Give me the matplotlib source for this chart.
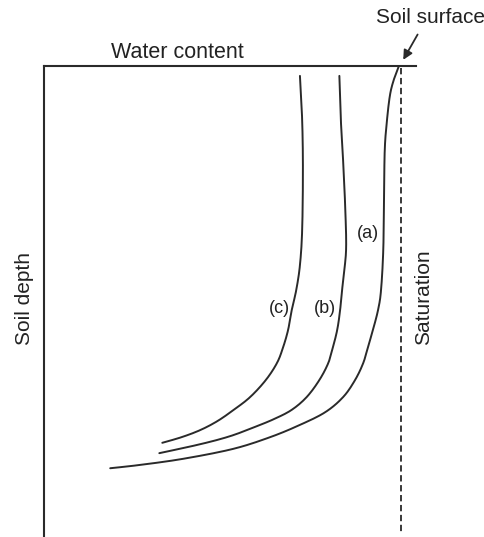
import matplotlib
matplotlib.use("Agg")
import matplotlib.pyplot as plt
import numpy as np

plt.rcParams['font.family'] = ['Liberation Sans', 'DejaVu Sans']

# water content (volume fraction) and depth (cm)
theta_a = [0.477, 0.470, 0.465, 0.461, 0.458, 0.457, 0.456, 0.453, 0.449, 0.442, 0.435,
           0.429, 0.418, 0.402, 0.378, 0.344, 0.304, 0.254, 0.187, 0.129, 0.089]
depth_a = [0.0, 3.0, 6.2, 11.5, 17.8, 28.5, 39.1, 47.6, 51.8, 56.1, 59.9,
           63.1, 66.7, 70.3, 73.5, 76.2, 78.8, 81.3, 83.4, 84.7, 85.4]

theta_b = [0.397, 0.399, 0.402, 0.405, 0.406, 0.402, 0.398, 0.394, 0.388, 0.382, 0.370,
           0.353, 0.333, 0.310, 0.284, 0.250, 0.210, 0.155]
depth_b = [2.1, 11.5, 20.0, 30.6, 39.1, 45.4, 51.8, 56.1, 59.9, 63.1, 66.7,
           70.3, 73.0, 74.9, 76.6, 78.6, 80.3, 82.2]

theta_c = [0.344, 0.347, 0.348, 0.347, 0.344, 0.339, 0.333, 0.328, 0.321, 0.313, 0.298,
           0.277, 0.255, 0.233, 0.210, 0.185, 0.159]
depth_c = [2.1, 11.5, 22.1, 34.8, 42.3, 47.6, 51.8, 56.1, 59.9, 63.1, 66.7,
           70.3, 73.0, 75.4, 77.3, 78.8, 80.0]

theta_sat = 0.480
sat_depth = [0.4, 98.9]

curve_labels = ['(a)', '(b)', '(c)']


def smooth(x, y, n=12):
    # catmull-rom through the read points
    p = np.column_stack([x, y]).astype(float)
    p = np.vstack([p[0], p, p[-1]])
    out = []
    t = np.linspace(0, 1, n, endpoint=False)[:, None]
    for i in range(1, len(p) - 2):
        p0, p1, p2, p3 = p[i - 1], p[i], p[i + 1], p[i + 2]
        seg = 0.5 * ((2 * p1) + (-p0 + p2) * t + (2 * p0 - 5 * p1 + 4 * p2 - p3) * t ** 2
                     + (-p0 + 3 * p1 - 3 * p2 + p3) * t ** 3)
        out.append(seg)
    out.append(p[-2][None, :])
    out = np.vstack(out)
    return out[:, 0], out[:, 1]


fig = plt.figure(figsize=(4.85, 5.37), dpi=100)
ax = fig.add_axes([44 / 485, 0, 372 / 485, 471 / 537])
ax.set_xlim(0, 0.5)
ax.set_ylim(100, 0)

ink = '#2a2a2a'
for th, d in [(theta_a, depth_a), (theta_b, depth_b), (theta_c, depth_c)]:
    xs, ys = smooth(th, d)
    ax.plot(xs, ys, color=ink, lw=1.4, solid_capstyle='round')

ax.plot([theta_sat, theta_sat], sat_depth, color=ink, lw=1.3, dashes=(3.5, 2))

for s in ['right', 'bottom']:
    ax.spines[s].set_visible(False)
for s in ['left', 'top']:
    ax.spines[s].set_linewidth(1.5)
    ax.spines[s].set_color(ink)
ax.set_xticks([])
ax.set_yticks([])
ax.patch.set_alpha(0)

kw = dict(color='#222222', clip_on=False)
ax.text(0.179, -2.9, 'Water content', ha='center', va='center', fontsize=15.5, **kw)
ax.text(-0.026, 49.3, 'Soil depth', ha='center', va='center', rotation=90, fontsize=15, **kw)
ax.text(0.510, 49.0, 'Saturation', ha='center', va='center', rotation=90, fontsize=15, **kw)
ax.text(0.519, -10.2, 'Soil surface', ha='center', va='center', fontsize=15, **kw)

ax.annotate('', xy=(0.481, -0.8), xytext=(0.504, -7.2), annotation_clip=False,
            arrowprops=dict(arrowstyle='-|>', color=ink, lw=1.3, mutation_scale=14))

label_pos = [(0.435, 35.5), (0.378, 51.4), (0.317, 51.4)]
for lab, (lx, ly) in zip(curve_labels, label_pos):
    ax.text(lx, ly, lab, ha='center', va='center', fontsize=13, **kw)

fig.savefig('out.png', dpi=100)
